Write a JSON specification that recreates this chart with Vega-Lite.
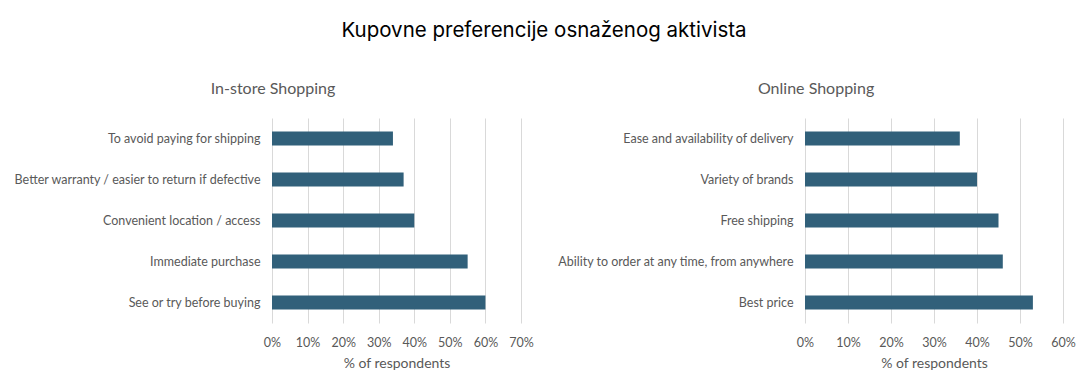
{
  "$schema": "https://vega.github.io/schema/vega-lite/v6.json",
  "padding": {"left": 12, "top": 20, "right": 0, "bottom": 0},
  "background": "white",
  "title": {"text": "Kupovne preferencije osnaženog aktivista", "font": "Inter", "fontSize": 20.5, "fontWeight": "normal", "color": "#000000", "anchor": "middle", "offset": 40},
  "config": {
    "view": {"stroke": null},
    "font": "Lato",
    "title": {"font": "Lato", "fontSize": 16, "fontWeight": "normal", "color": "#595959", "offset": 21, "frame": "bounds", "anchor": "middle"},
    "axis": {"labelFont": "Lato", "labelColor": "#595959", "titleFont": "Lato", "titleColor": "#595959", "titleFontWeight": "normal", "domain": false, "ticks": false}
  },
  "spacing": 284,
  "bounds": "flush",
  "datasets": {
    "instore": [
      {"reason": "To avoid paying for shipping", "pct": 0.34},
      {"reason": "Better warranty / easier to return if defective", "pct": 0.37},
      {"reason": "Convenient location / access", "pct": 0.40},
      {"reason": "Immediate purchase", "pct": 0.55},
      {"reason": "See or try before buying", "pct": 0.60}
    ],
    "online": [
      {"reason": "Ease and availability of delivery", "pct": 0.36},
      {"reason": "Variety of brands", "pct": 0.40},
      {"reason": "Free shipping", "pct": 0.45},
      {"reason": "Ability to order at any time, from anywhere", "pct": 0.46},
      {"reason": "Best price", "pct": 0.53}
    ]
  },
  "hconcat": [
    {
      "title": "In-store Shopping",
      "data": {"name": "instore"},
      "width": 249,
      "height": 205,
      "mark": {"type": "bar", "color": "#31607a"},
      "encoding": {
        "y": {"field": "reason", "type": "nominal", "sort": null, "title": null, "scale": {"paddingInner": 0.66, "paddingOuter": 0.33}, "axis": {"labelFontSize": 12.5, "labelPadding": 12, "grid": false, "labelLimit": 400}},
        "x": {"field": "pct", "type": "quantitative", "title": "% of respondents", "scale": {"domain": [0, 0.7], "nice": false}, "axis": {"format": "%", "values": [0, 0.1, 0.2, 0.3, 0.4, 0.5, 0.6, 0.7], "labelOverlap": false, "labelFlush": false, "labelFontSize": 12.5, "labelPadding": 13, "titleFontSize": 14, "titlePadding": 8, "grid": true, "gridColor": "#d9d9d9"}}
      }
    },
    {
      "title": "Online Shopping",
      "data": {"name": "online"},
      "width": 258,
      "height": 205,
      "mark": {"type": "bar", "color": "#31607a"},
      "encoding": {
        "y": {"field": "reason", "type": "nominal", "sort": null, "title": null, "scale": {"paddingInner": 0.66, "paddingOuter": 0.33}, "axis": {"labelFontSize": 12.5, "labelPadding": 12, "grid": false, "labelLimit": 400}},
        "x": {"field": "pct", "type": "quantitative", "title": "% of respondents", "scale": {"domain": [0, 0.6], "nice": false}, "axis": {"format": "%", "values": [0, 0.1, 0.2, 0.3, 0.4, 0.5, 0.6], "labelOverlap": false, "labelFlush": false, "labelFontSize": 12.5, "labelPadding": 13, "titleFontSize": 14, "titlePadding": 8, "grid": true, "gridColor": "#d9d9d9"}}
      }
    }
  ]
}
